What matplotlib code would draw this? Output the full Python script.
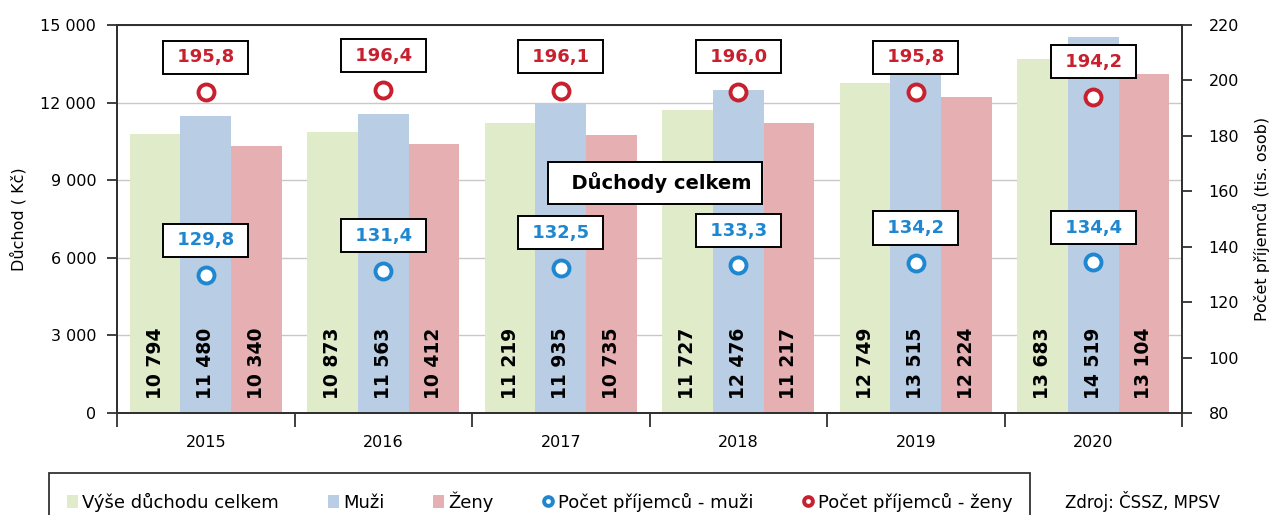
import matplotlib.pyplot as plt
import numpy as np

years = ['2015', '2016', '2017', '2018', '2019', '2020']
celkem = [10794, 10873, 11219, 11727, 12749, 13683]
muzi = [11480, 11563, 11935, 12476, 13515, 14519]
zeny = [10340, 10412, 10735, 11217, 12224, 13104]
prijemci_muzi = [129.8, 131.4, 132.5, 133.3, 134.2, 134.4]
prijemci_zeny = [195.8, 196.4, 196.1, 196.0, 195.8, 194.2]

c_green = '#dfebc9'
c_blue = '#b9cde5'
c_pink = '#e6b0b3'
c_mblue = '#1f87d0'
c_red = '#c8202f'

plt.rcParams['font.family'] = 'DejaVu Sans'


def fmt(v):
    return '{:,}'.format(v).replace(',', ' ')


fig = plt.figure(figsize=(12.71, 5.15), dpi=100)
ax1 = fig.add_axes([117 / 1271, 1 - 413 / 515, 1065 / 1271, 388 / 515])
ax2 = ax1.twinx()

x = np.arange(len(years))
w = 0.2855

b1 = ax1.bar(x - w, celkem, w, color=c_green, zorder=2, label='Výše důchodu celkem')
b2 = ax1.bar(x, muzi, w, color=c_blue, zorder=2, label='Muži')
b3 = ax1.bar(x + w, zeny, w, color=c_pink, zorder=2, label='Ženy')

for bars, vals in [(b1, celkem), (b2, muzi), (b3, zeny)]:
    for b, v in zip(bars, vals):
        ax1.text(b.get_x() + b.get_width() / 2, 560, fmt(v), rotation=90,
                 ha='center', va='bottom', fontsize=13.5, fontweight='bold', zorder=3)

ax1.set_xlim(-0.5, len(years) - 0.5)
ax1.set_ylim(0, 15000)
ax1.set_yticks(np.arange(0, 15001, 3000))
ax1.set_yticklabels([fmt(v) for v in range(0, 15001, 3000)], fontsize=11.5)
ax1.yaxis.grid(True, color='#c8c8c8', linewidth=1, zorder=0)
ax1.set_axisbelow(True)
ax1.set_xticks(x)
ax1.set_xticklabels(years, fontsize=11.5)
ax1.set_xticks(np.arange(-0.5, len(years)), minor=True)
ax1.tick_params(axis='x', which='major', length=0, pad=16)
ax1.tick_params(axis='x', which='minor', length=10, width=1.3, color='#303030')
ax1.tick_params(axis='y', length=7, width=1.3, pad=8, color='#303030')
ax1.set_ylabel('Důchod ( Kč)', fontsize=11.5, labelpad=10)

ax2.set_ylim(80, 220)
ax2.set_yticks(np.arange(80, 221, 20))
ax2.tick_params(axis='y', labelsize=11.5, length=7, width=1.3, pad=12, color='#303030')
ax2.set_ylabel('Počet příjemců (tis. osob)', fontsize=11.5, labelpad=10)

ax2.plot(x, prijemci_muzi, 'o', ms=11.5, mfc='white', mec=c_mblue, mew=2.8,
         linestyle='none', label='Počet příjemců - muži', zorder=4)
ax2.plot(x, prijemci_zeny, 'o', ms=11.5, mfc='white', mec=c_red, mew=2.8,
         linestyle='none', label='Počet příjemců - ženy', zorder=4)

for vals, col in [(prijemci_muzi, c_mblue), (prijemci_zeny, c_red)]:
    for xi, v in zip(x, vals):
        ax2.annotate(' ' + ('%.1f' % v).replace('.', ',') + ' ', (xi, v), xytext=(0, 25),
                     textcoords='offset points', ha='center', va='center',
                     fontsize=13, fontweight='bold', color=col,
                     bbox=dict(boxstyle='square,pad=0.42', fc='white', ec='black', lw=1.4))

ax2.text(655 / 1271, 1 - 183 / 515, '  Důchody celkem', transform=fig.transFigure,
         ha='center', va='center', fontsize=14, fontweight='bold', zorder=5,
         bbox=dict(boxstyle='square,pad=0.55', fc='white', ec='black', lw=1.4))

for ax in (ax1, ax2):
    for s in ax.spines.values():
        s.set_color('#303030')
        s.set_linewidth(1.3)

h1, l1 = ax1.get_legend_handles_labels()
h2, l2 = ax2.get_legend_handles_labels()
leg = fig.legend(h1 + h2, l1 + l2, ncol=5, loc='upper left',
                 bbox_to_anchor=(49 / 1271, 1 - 473 / 515), fontsize=13,
                 frameon=True, fancybox=False, edgecolor='black',
                 handlelength=0.6, handletextpad=0.25, columnspacing=2.7,
                 borderpad=1.0, borderaxespad=0, markerscale=0.55)
leg.get_frame().set_linewidth(1.3)

fig.text(1065 / 1271, 1 - 502 / 515, 'Zdroj: ČSSZ, MPSV', fontsize=12, va='center')

fig.savefig('out.png', dpi=100)
